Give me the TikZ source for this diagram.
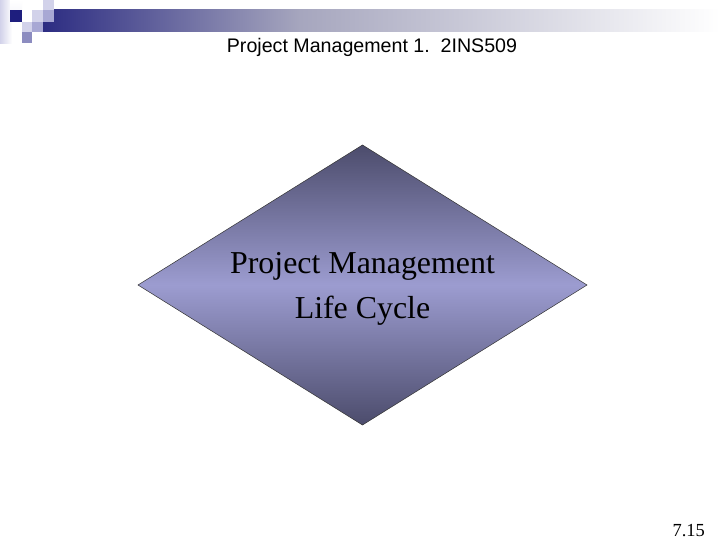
\documentclass[tikz,border=0pt]{standalone}
\usepackage{fontspec}
\setmainfont{Liberation Serif}
\newfontfamily\arialfont{Liberation Sans}
\definecolor{navy}{HTML}{1E1E7E}
\definecolor{barnavy}{HTML}{2C2C82}
\definecolor{barmid}{HTML}{A6A6BE}
\definecolor{lav}{HTML}{D2D2EA}
\definecolor{lavmid}{HTML}{A8A8D4}
\definecolor{lavdark}{HTML}{8C8CC0}
\definecolor{dtop}{HTML}{4C4C6C}
\definecolor{dmid}{HTML}{9C9CD0}
\tikzset{
  pmdiamond/.style={draw=black!80, line width=0.5bp,
    top color=dtop, bottom color=dtop, middle color=dmid},
  pmtext/.style={align=center, inner sep=0pt, font=\fontsize{32}{45}\selectfont},
  titletext/.style={font=\arialfont\fontsize{19.7}{22}\selectfont, inner sep=0pt},
  pagenum/.style={font=\fontsize{18.5}{22}\selectfont, inner sep=0pt, anchor=east}
}
\begin{document}
\begin{tikzpicture}[x=1bp,y=-1bp]
\useasboundingbox (0,0) rectangle (720,540);
\fill[white] (0,0) rectangle (720,540);
% left light gradient column
\shade[left color=lav, right color=white] (0,0) rectangle (12,44);
\shade[top color=white, bottom color=white!85!lav] (10,0) rectangle (22,10);
% gradient bar
\shade[left color=barnavy, right color=barmid] (43,10) rectangle (300,32);
\shade[left color=barmid, right color=white] (300,10) rectangle (720,32);
% squares
\fill[navy] (10,10) rectangle (22,22);
\fill[lav] (32,10) rectangle (43,22);
\fill[lav] (43,0) rectangle (54,10);
\fill[lavmid] (43,10) rectangle (54,22);
\fill[lav] (22,22) rectangle (32,32);
\fill[lavmid] (32,22) rectangle (43,32);
\fill[lavdark] (22,32) rectangle (32,43);
% title
\node[titletext] (title) at (372,47) {Project Management 1.\ \ 2INS509};
% diamond
\coordinate (dt) at (362.5,145);
\coordinate (dr) at (587,285);
\coordinate (db) at (362.5,425);
\coordinate (dl) at (138,285);
\path[pmdiamond] (dt) -- (dr) -- (db) -- (dl) -- cycle;
\node[pmtext] (pm) at (362.5,289) {Project Management\\Life Cycle};
% page number
\node[pagenum] (pg) at (705,530.5) {7.15};
\end{tikzpicture}
\end{document}
